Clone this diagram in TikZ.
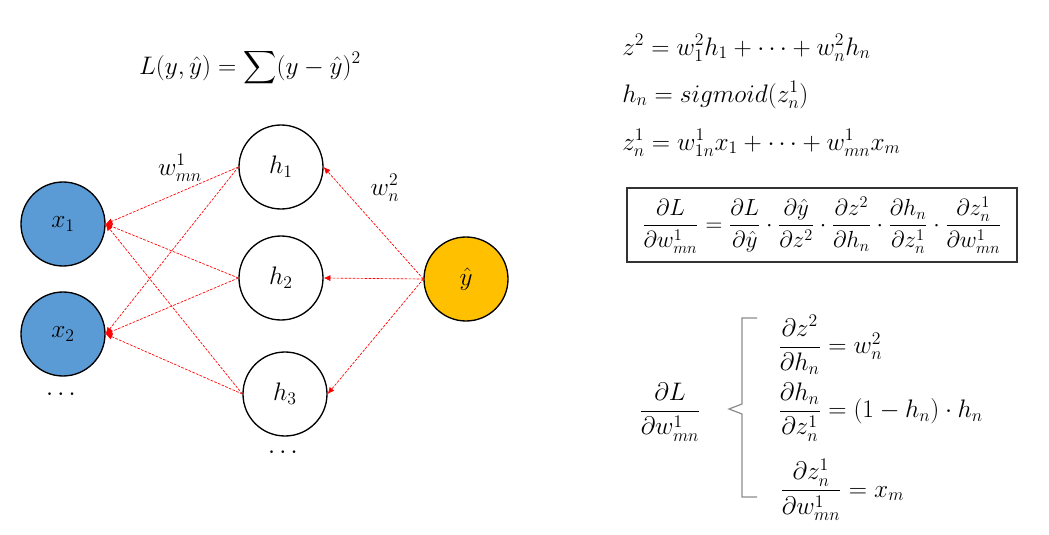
\documentclass[tikz,border=0pt]{standalone}
\usepackage{fix-cm}
\usepackage{amsmath}
\usetikzlibrary{arrows.meta}
\definecolor{inblue}{HTML}{5B9BD5}
\definecolor{outyel}{HTML}{FFC000}
\definecolor{bracegray}{HTML}{8C8C8C}
\begin{document}
\begin{tikzpicture}[x=0.75pt,y=-0.75pt,
  every node/.style={font=\fontsize{19}{23}\selectfont},
  neuron/.style={circle,draw=black,line width=1pt,minimum size=63pt,inner sep=0pt},
  inneuron/.style={neuron,fill=inblue},
  outneuron/.style={neuron,fill=outyel},
  hidneuron/.style={neuron,fill=white},
  conn/.style={red,line width=0.5pt,dash pattern=on 2pt off 1pt,-{Latex[length=5pt,width=4.5pt]}},
  eqn/.style={anchor=west,inner sep=0pt},
  bracepath/.style={bracegray,line width=0.9pt}]
\useasboundingbox (0,0) rectangle (1049,535);

% neurons
\node[inneuron] (x1) at (63,224) {$x_1$};
\node[inneuron] (x2) at (63,334) {$x_2$};
\node (xd) at (63,395) {$\cdots$};
\node[hidneuron] (h1) at (281,167) {$h_1$};
\node[hidneuron] (h2) at (281,278) {$h_2$};
\node[hidneuron] (h3) at (285,394) {$h_3$};
\node (hd) at (285,453) {$\cdots$};
\node[outneuron] (y) at (466,279) {$\hat{y}$};

% connectors
\foreach \h in {h1,h2,h3}{
  \draw[conn] (\h.west) -- (x1.east);
  \draw[conn] (\h.west) -- (x2.east);
}
\draw[conn] (y.west) -- (h1.east);
\draw[conn] (y.west) -- (h2.east);
\draw[conn] (y.west) -- (h3.east);

% labels
\node (w1) at (180,168) {$w^1_{mn}$};
\node (w2) at (385,188) {$w^2_n$};
\node (loss) at (250,68) {$L(y,\hat{y})=\displaystyle\sum(y-\hat{y})^2$};

% right equations
\node[eqn] (e1) at (622,48) {$z^2=w^2_1h_1+\cdots+w^2_nh_n$};
\node[eqn] (e2) at (622,95) {$h_n=sigmoid(z^1_n)$};
\node[eqn] (e3) at (622,143) {$z^1_n=w^1_{1n}x_1+\cdots+w^1_{mn}x_m$};

\node[draw=black!80,line width=0.8pt,minimum width=292.5pt,minimum height=55.5pt,inner sep=0pt,font=\fontsize{17.5}{21}\selectfont] (box) at (822,225)
 {$\dfrac{\partial L}{\partial w^1_{mn}}=\dfrac{\partial L}{\partial\hat{y}}\cdot\dfrac{\partial\hat{y}}{\partial z^2}\cdot\dfrac{\partial z^2}{\partial h_n}\cdot\dfrac{\partial h_n}{\partial z^1_n}\cdot\dfrac{\partial z^1_n}{\partial w^1_{mn}}$};

% bottom
\node (dl) at (670,412) {$\dfrac{\partial L}{\partial w^1_{mn}}$};
\draw[bracepath] (757,318) -- (742,318) -- (742,404) -- (729,409) -- (742,414) -- (742,497) -- (757,497);
\node[eqn] (b1) at (778,345) {$\dfrac{\partial z^2}{\partial h_n}=w^2_n$};
\node[eqn] (b2) at (778,412) {$\dfrac{\partial h_n}{\partial z^1_n}=(1-h_n)\cdot h_n$};
\node[eqn] (b3) at (780,490) {$\dfrac{\partial z^1_n}{\partial w^1_{mn}}=x_m$};
\end{tikzpicture}
\end{document}
